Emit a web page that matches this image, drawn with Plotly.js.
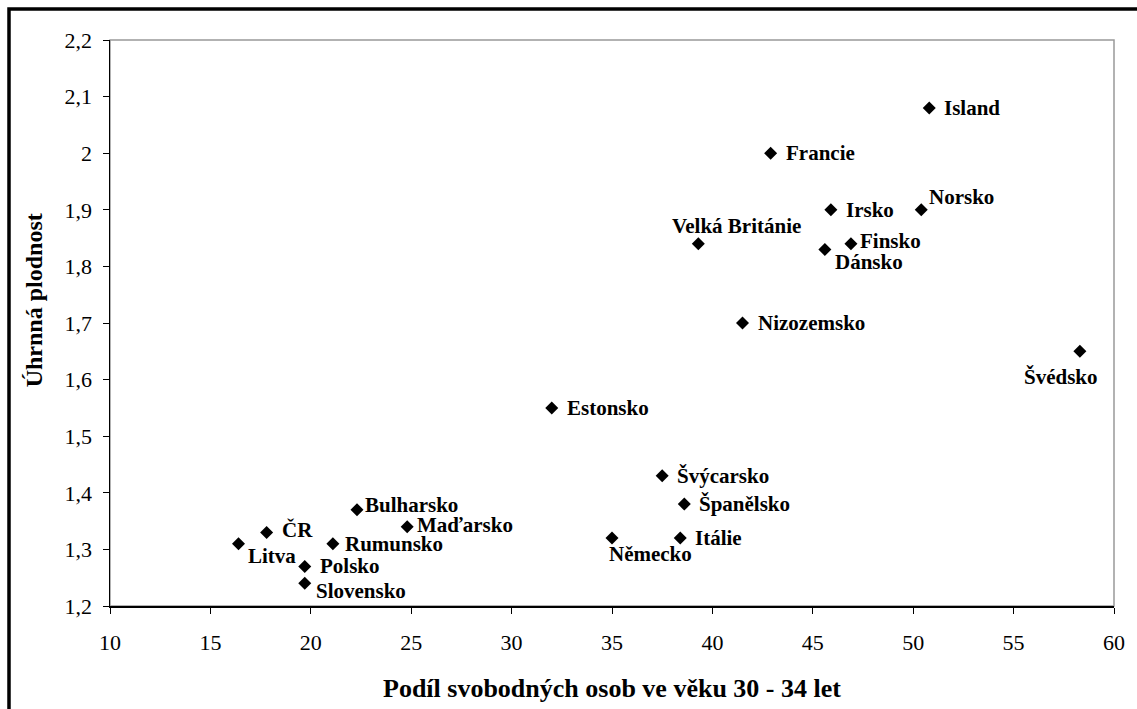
<!DOCTYPE html>
<html>
<head>
<meta charset="utf-8">
<script src="https://cdn.plot.ly/plotly-3.0.1.min.js"></script>
<style>html,body{margin:0;padding:0;background:#fff;}#chart{width:1137px;height:709px;}</style>
</head>
<body>
<div id="chart"></div>
<script>
// Data
const countries = ["Island","Francie","Irsko","Norsko","Velká Británie","Finsko","Dánsko","Nizozemsko","Švédsko","Estonsko","Švýcarsko","Španělsko","Itálie","Německo","Bulharsko","Maďarsko","ČR","Rumunsko","Litva","Polsko","Slovensko"];
const singleShare = [50.8,42.9,45.9,50.4,39.3,46.9,45.6,41.5,58.3,32.0,37.5,38.6,38.4,35.0,22.3,24.8,17.8,21.1,16.4,19.7,19.7];
const fertility  = [2.08,2.00,1.90,1.90,1.84,1.84,1.83,1.70,1.65,1.55,1.43,1.38,1.32,1.32,1.37,1.34,1.33,1.31,1.31,1.27,1.24];
const xTickVals = [10,15,20,25,30,35,40,45,50,55,60];
const yTickVals = [1.2,1.3,1.4,1.5,1.6,1.7,1.8,1.9,2.0,2.1,2.2];

// Label placement styles (pixel offsets from marker): [xanchor, xshift, yshift]
const labelStyle = {
  "Island":["left",13,0],"Francie":["left",13,0],"Irsko":["left",13,0],
  "Norsko":["left",6,13],"Velká Británie":["center",38,18],"Finsko":["left",7,3],
  "Dánsko":["left",8,-13],"Nizozemsko":["left",13,0],"Švédsko":["center",-19,-26],
  "Estonsko":["left",13,0],"Švýcarsko":["left",13,0],"Španělsko":["left",13,0],
  "Itálie":["left",13,0],"Německo":["center",38,-16],"Bulharsko":["left",6,5],
  "Maďarsko":["left",8,2],"ČR":["left",13,2],"Rumunsko":["left",10,0],
  "Litva":["left",7,-12],"Polsko":["left",13,0],"Slovensko":["left",9,-8]
};

const serif = "Liberation Serif";

const trace = {
  type: "scatter", mode: "markers",
  x: singleShare, y: fertility, text: countries, hoverinfo: "text+x+y",
  marker: {symbol: "diamond", size: 10, color: "#000"},
  showlegend: false, cliponaxis: false
};

const annotations = countries.map((c, i) => ({
  x: singleShare[i], y: fertility[i], xref: "x", yref: "y",
  text: "<b>" + c + "</b>", showarrow: false,
  xanchor: labelStyle[c][0], yanchor: "middle",
  xshift: labelStyle[c][1], yshift: labelStyle[c][2],
  font: {family: serif, size: 21, color: "#000"}
}));

annotations.push({
  xref: "paper", yref: "paper", x: 0.5, y: -0.145, yanchor: "middle", xanchor: "center",
  text: "<b>Podíl svobodných osob ve věku 30 - 34 let</b>", showarrow: false,
  font: {family: serif, size: 26, color: "#000"}
});
annotations.push({
  xref: "paper", yref: "paper", x: -0.0757, y: 0.54, xanchor: "center", yanchor: "middle",
  text: "<b>Úhrnná plodnost</b>", showarrow: false, textangle: -90,
  font: {family: serif, size: 24, color: "#000"}
});

const layout = {
  width: 1137, height: 709,
  margin: {l: 110, r: 23, t: 40, b: 103},
  paper_bgcolor: "#fff", plot_bgcolor: "#fff",
  separators: ", ",
  font: {family: serif, color: "#000", size: 22},
  xaxis: {
    range: [10, 60], tickvals: xTickVals, ticks: "outside", ticklen: 6, tickcolor: "#000",
    showgrid: false, zeroline: false, showline: true, linecolor: "#000", linewidth: 1.5,
    ticklabelstandoff: 10,
    tickfont: {family: serif, size: 22, color: "#000"}, fixedrange: true
  },
  yaxis: {
    range: [1.2, 2.2], tickvals: yTickVals, ticks: "outside", ticklen: 6, tickcolor: "#000",
    showgrid: false, zeroline: false, showline: true, linecolor: "#000", linewidth: 1.5,
    ticklabelstandoff: 6,
    tickfont: {family: serif, size: 22, color: "#000"}, fixedrange: true
  },
  shapes: [
    {type: "rect", xref: "paper", yref: "paper", x0: 0, x1: 1, y0: 0, y1: 1,
     line: {color: "#999", width: 1.5}, layer: "below"},
    {type: "rect", xref: "paper", yref: "paper", x0: -0.1006, x1: 1.2, y0: -0.4, y1: 1.0548,
     line: {color: "#000", width: 3.5}, layer: "above"}
  ],
  annotations: annotations
};

Plotly.newPlot("chart", [trace], layout, {staticPlot: true, displayModeBar: false});
</script>
</body>
</html>
